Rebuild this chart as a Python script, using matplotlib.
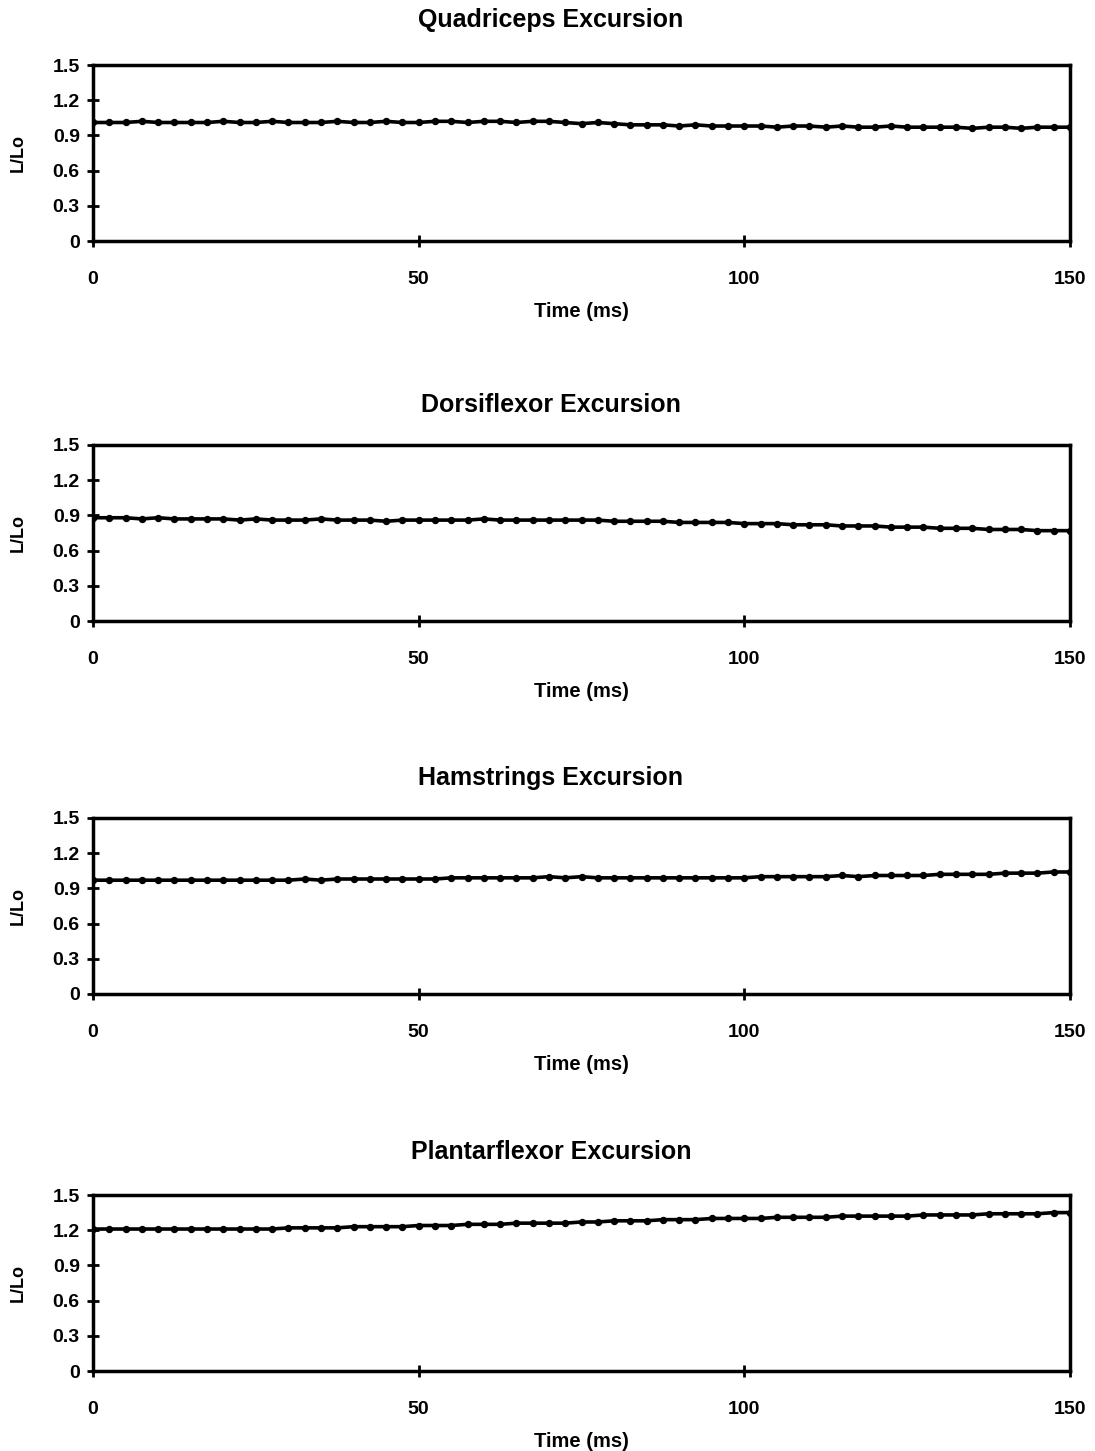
import matplotlib
matplotlib.use('Agg')
import matplotlib.pyplot as plt
import numpy as np

plt.rcParams['font.family'] = ['Liberation Sans', 'DejaVu Sans']
plt.rcParams['font.weight'] = 'bold'

# time axis, one sample every 2.5 ms
time_ms = [i * 2.5 for i in range(61)]

titles = ['Quadriceps Excursion', 'Dorsiflexor Excursion',
          'Hamstrings Excursion', 'Plantarflexor Excursion']

quadriceps = [
    1.01, 1.01, 1.01, 1.02, 1.01, 1.01, 1.01, 1.01, 1.02, 1.01,
    1.01, 1.02, 1.01, 1.01, 1.01, 1.02, 1.01, 1.01, 1.02, 1.01,
    1.01, 1.02, 1.02, 1.01, 1.02, 1.02, 1.01, 1.02, 1.02, 1.01,
    1.00, 1.01, 1.00, 0.99, 0.99, 0.99, 0.98, 0.99, 0.98, 0.98,
    0.98, 0.98, 0.97, 0.98, 0.98, 0.97, 0.98, 0.97, 0.97, 0.98,
    0.97, 0.97, 0.97, 0.97, 0.96, 0.97, 0.97, 0.96, 0.97, 0.97,
    0.97]

dorsiflexor = [
    0.88, 0.88, 0.88, 0.87, 0.88, 0.87, 0.87, 0.87, 0.87, 0.86,
    0.87, 0.86, 0.86, 0.86, 0.87, 0.86, 0.86, 0.86, 0.85, 0.86,
    0.86, 0.86, 0.86, 0.86, 0.87, 0.86, 0.86, 0.86, 0.86, 0.86,
    0.86, 0.86, 0.85, 0.85, 0.85, 0.85, 0.84, 0.84, 0.84, 0.84,
    0.83, 0.83, 0.83, 0.82, 0.82, 0.82, 0.81, 0.81, 0.81, 0.80,
    0.80, 0.80, 0.79, 0.79, 0.79, 0.78, 0.78, 0.78, 0.77, 0.77,
    0.77]

hamstrings = [
    0.97, 0.97, 0.97, 0.97, 0.97, 0.97, 0.97, 0.97, 0.97, 0.97,
    0.97, 0.97, 0.97, 0.98, 0.97, 0.98, 0.98, 0.98, 0.98, 0.98,
    0.98, 0.98, 0.99, 0.99, 0.99, 0.99, 0.99, 0.99, 1.00, 0.99,
    1.00, 0.99, 0.99, 0.99, 0.99, 0.99, 0.99, 0.99, 0.99, 0.99,
    0.99, 1.00, 1.00, 1.00, 1.00, 1.00, 1.01, 1.00, 1.01, 1.01,
    1.01, 1.01, 1.02, 1.02, 1.02, 1.02, 1.03, 1.03, 1.03, 1.04,
    1.04]

plantarflexor = [
    1.21, 1.21, 1.21, 1.21, 1.21, 1.21, 1.21, 1.21, 1.21, 1.21,
    1.21, 1.21, 1.22, 1.22, 1.22, 1.22, 1.23, 1.23, 1.23, 1.23,
    1.24, 1.24, 1.24, 1.25, 1.25, 1.25, 1.26, 1.26, 1.26, 1.26,
    1.27, 1.27, 1.28, 1.28, 1.28, 1.29, 1.29, 1.29, 1.30, 1.30,
    1.30, 1.30, 1.31, 1.31, 1.31, 1.31, 1.32, 1.32, 1.32, 1.32,
    1.32, 1.33, 1.33, 1.33, 1.33, 1.34, 1.34, 1.34, 1.34, 1.35,
    1.35]

series = [quadriceps, dorsiflexor, hamstrings, plantarflexor]

y_ticks = [0, 0.3, 0.6, 0.9, 1.2, 1.5]
y_tick_labels = ['0', '0.3', '0.6', '0.9', '1.2', '1.5']
x_ticks = [0, 50, 100, 150]

W, H = 1095, 1451
fig = plt.figure(figsize=(W / 100, H / 100), dpi=100)

# pixel layout of each panel: (axes bottom, title centre)
panel_bottoms = [241, 621, 994, 1371]
title_ys = [20, 405, 778, 1152]
ax_left, ax_right, ax_h = 93, 1070, 176

for vals, title, bottom, ty in zip(series, titles, panel_bottoms, title_ys):
    ax = fig.add_axes([ax_left / W, 1 - bottom / H,
                       (ax_right - ax_left) / W, ax_h / H])
    ax.plot(time_ms, vals, color='black', linewidth=2.6,
            marker='o', markersize=4.3)
    ax.set_xlim(0, 150)
    ax.set_ylim(0, 1.5)
    ax.set_xticks(x_ticks)
    ax.set_yticks(y_ticks)
    ax.set_yticklabels(y_tick_labels)
    for s in ax.spines.values():
        s.set_linewidth(2.5)
        s.set_color('black')
    ax.tick_params(axis='y', direction='inout', length=9, width=2,
                   labelsize=14, pad=5)
    ax.tick_params(axis='x', direction='inout', length=9, width=2,
                   labelsize=14, pad=17)
    ax.set_xlabel('Time (ms)', fontsize=14.5, fontweight='bold', va='center')
    ax.xaxis.set_label_coords(0.5, -0.4)
    ax.set_ylabel('L/Lo', fontsize=13, fontweight='bold', va='center')
    ax.yaxis.set_label_coords(-0.077, 0.5)
    fig.text(0.503, 1 - ty / H, title, ha='center', va='center',
             fontsize=18, fontweight='bold')

plt.savefig('out.png', dpi=100, facecolor='white')
plt.close()
